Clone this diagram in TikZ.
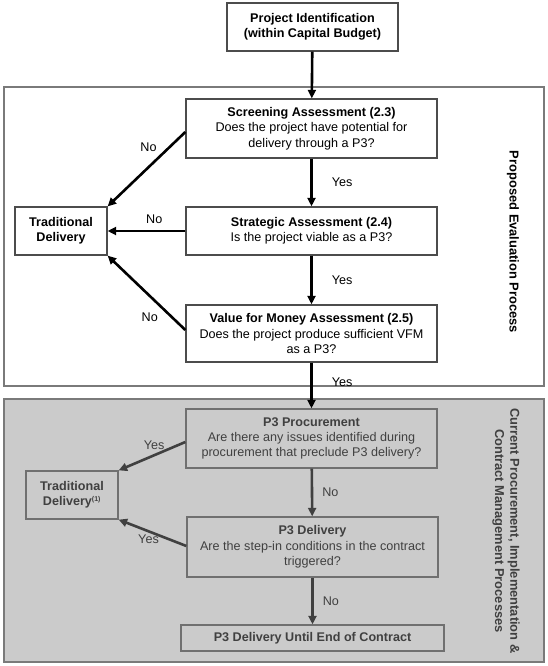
\documentclass[tikz,border=0pt]{standalone}
\usepackage{fontspec}
\setmainfont{Liberation Sans}
\usepackage{tikz}
\usetikzlibrary{arrows.meta, positioning}
\definecolor{framegrey}{HTML}{7A7A7A}
\definecolor{panelgrey}{HTML}{CBCBCB}
\definecolor{boxgrey}{HTML}{707070}
\definecolor{inkgrey}{HTML}{404040}
\newcommand{\boxfont}{\fontsize{12.6pt}{15.3pt}\selectfont}
\tikzset{
  panel/.style = {draw=framegrey, line width=1.6pt},
  process/.style = {
    rectangle, draw=black!70, line width=1.3pt,
    fill=white, minimum width=251pt, align=center,
    inner sep=2pt, font=\boxfont
  },
  laterproc/.style = {
    process, draw=boxgrey, fill=panelgrey, text=inkgrey
  },
  sidelabel/.style = {rotate=-90, align=center, font=\fontsize{12.9pt}{15.3pt}\selectfont\bfseries},
  answer/.style = {inner sep=0pt, font=\boxfont},
  myarrow/.style = {-{Triangle[length=8.5pt, width=8pt]}, line width=2.6pt},
  greyarrow/.style = {myarrow, draw=inkgrey, fill=inkgrey}
}

\begin{document}
\begin{tikzpicture}[x=1pt, y=-1pt]
  \useasboundingbox (0,0) rectangle (548,666);
  % Panels
  \draw[panel] (4,87) rectangle (544,386);
  \draw[panel, fill=panelgrey] (4,399) rectangle (544,662);
  \node[sidelabel] (evallabel) at (513,242) {Proposed Evaluation Process};
  \node[sidelabel, text=inkgrey] (currlabel) at (506,531)
    {Current Procurement, Implementation \&\\Contract Management Processes};
  % Start
  \node[process, minimum width=171pt, minimum height=48pt] (ident) at (312.5,27)
    {\textbf{Project Identification}\\\textbf{(within Capital Budget)}};
  % Proposed evaluation
  \node[process, minimum height=59pt] (screen) at (311.5,128.5)
    {\textbf{Screening Assessment (2.3)}\\Does the project have potential for\\delivery through a P3?};
  \node[process, minimum height=48pt] (strat) at (311.5,231)
    {\textbf{Strategic Assessment (2.4)}\\Is the project viable as a P3?};
  \node[process, minimum height=57pt] (vfm) at (311.5,333.5)
    {\textbf{Value for Money Assessment (2.5)}\\Does the project produce sufficient VFM\\as a P3?};
  \node[process, minimum width=92pt, minimum height=48pt] (trad) at (61,231)
    {\textbf{Traditional}\\\textbf{Delivery}};
  % Current processes
  \node[laterproc, minimum height=59pt] (procure) at (311.5,438.5)
    {\textbf{P3 Procurement}\\Are there any issues identified during\\procurement that preclude P3 delivery?};
  \node[laterproc, minimum height=60pt] (deliver) at (312.5,547)
    {\textbf{P3 Delivery}\\Are the step-in conditions in the contract\\triggered?};
  \node[laterproc, minimum width=263pt, minimum height=26pt] (untilend) at (312.5,638)
    {\textbf{P3 Delivery Until End of Contract}};
  \node[laterproc, minimum width=92pt, minimum height=48pt] (tradlater) at (72,495)
    {\textbf{Traditional}\\\textbf{Delivery\textsuperscript{\scriptsize(1)}}};
  % Arrows
  \draw[myarrow] (ident) -- (screen);
  \draw[myarrow] (screen) -- node[answer, right=19pt]{Yes} (strat);
  \draw[myarrow] (strat) -- node[answer, right=19pt]{Yes} (vfm);
  \draw[myarrow] (vfm) -- node[answer, pos=0.43, right=19pt]{Yes} (procure);
  \draw[myarrow] (screen.west |- 0,132) -- node[answer, pos=0.2, left=12pt]{No} (trad.north east);
  \draw[myarrow] (strat) -- node[answer, pos=0.4, above=6pt]{No} (trad);
  \draw[myarrow] (vfm.west |- 0,330) -- node[answer, pos=0.17, left=13pt]{No} (trad.south east);
  \draw[greyarrow] (procure) -- node[answer, text=inkgrey, right=9pt]{No} (deliver);
  \draw[greyarrow] (deliver) -- node[answer, text=inkgrey, right=9pt]{No} (untilend);
  \draw[greyarrow] (procure.west |- 0,442) -- node[answer, text=inkgrey, pos=0.13, left=11pt]{Yes} (tradlater.north east);
  \draw[greyarrow] (deliver.west |- 0,546) -- node[answer, text=inkgrey, pos=0.24, left=10pt]{Yes} (tradlater.south east);
\end{tikzpicture}
\end{document}
